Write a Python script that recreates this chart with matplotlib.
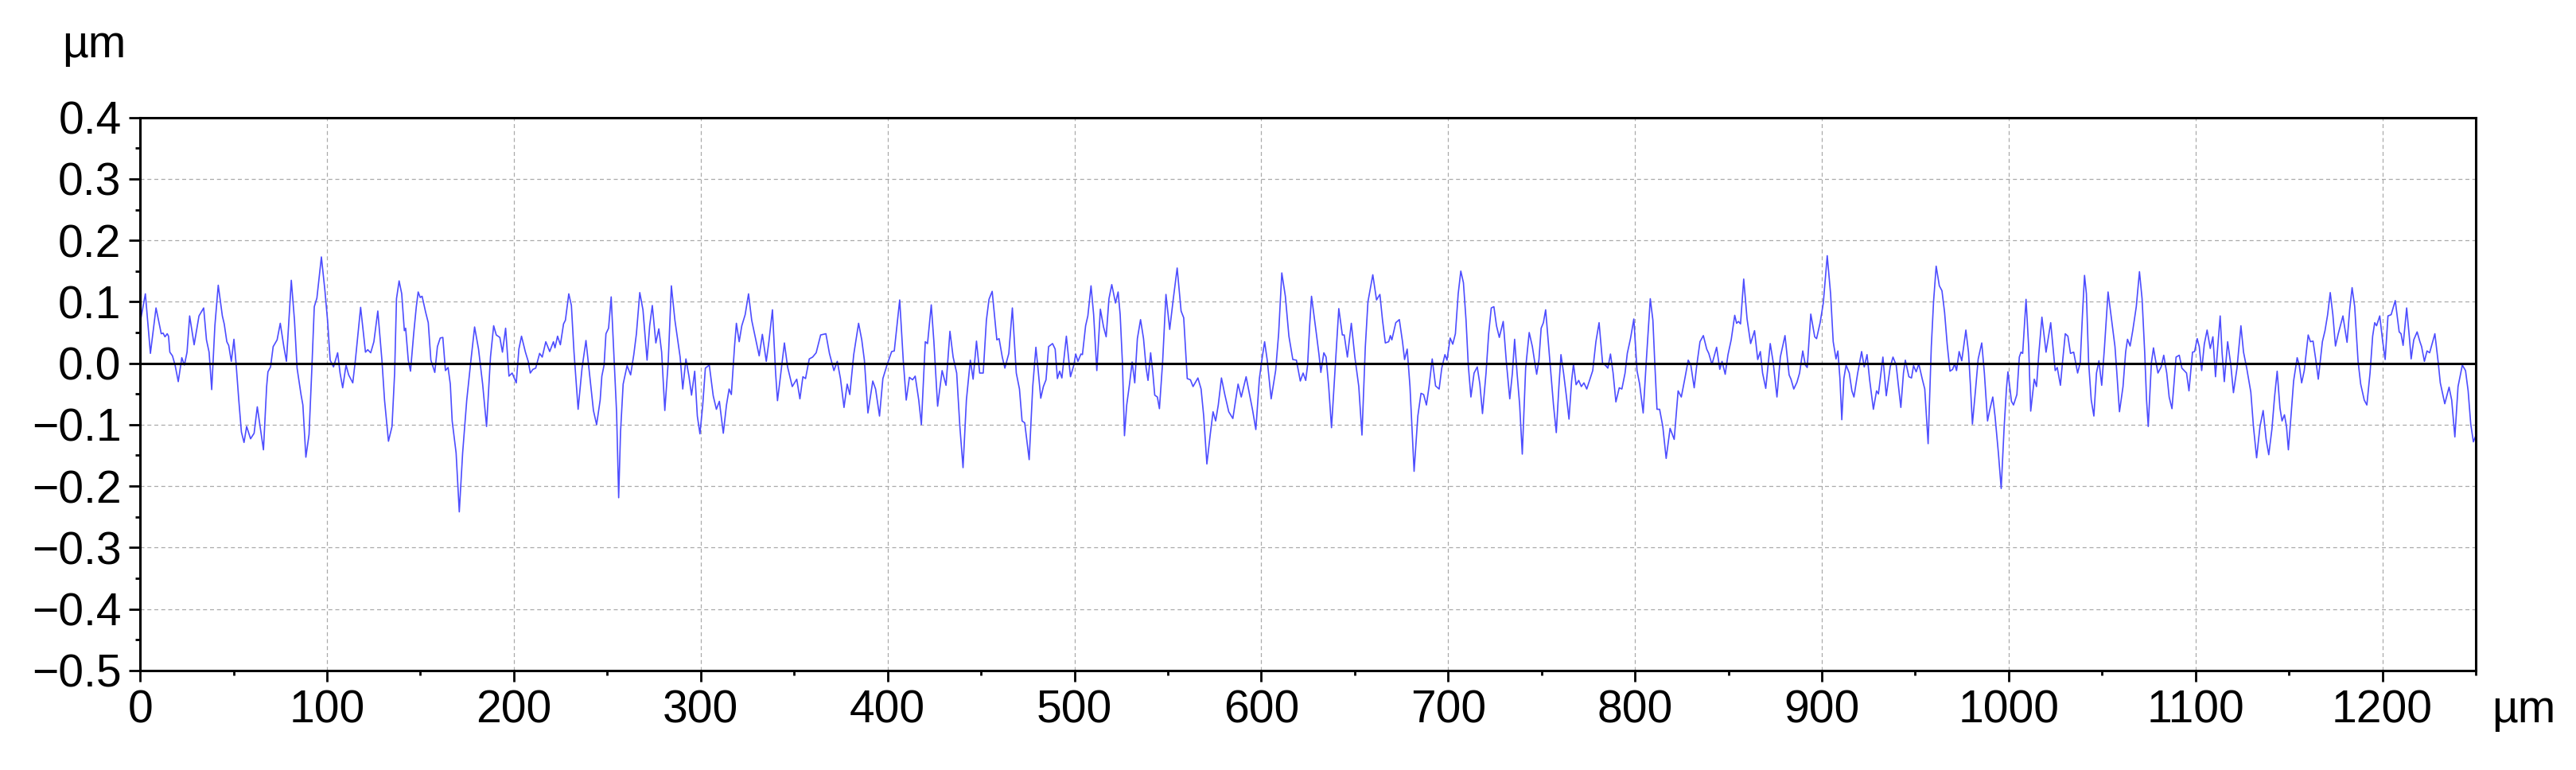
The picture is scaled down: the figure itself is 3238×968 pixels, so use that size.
import numpy as np
import matplotlib
matplotlib.use('Agg')
import matplotlib.pyplot as plt
from matplotlib.ticker import MultipleLocator, FuncFormatter

# profile: position (um) and height (nm), in 6 stretches
x_a = [0.0, 2.8, 5.5, 8.5, 11.3, 12.3, 13.3, 14.5, 15.2, 15.9, 17.3, 18.7, 20.4, 22.3, 23.7, 25.1, 26.5, 28.9, 31.5, 34.0,
       35.5, 36.9, 38.3, 40.0, 41.8, 44.0, 45.0, 46.4, 47.4, 48.8, 50.2, 51.3, 52.8, 54.2, 55.6, 57.0, 59.1, 61.0, 62.7, 64.4,
       66.0, 67.7, 68.4, 69.8, 71.2, 73.3, 75.0, 76.9, 78.3, 80.9, 82.6, 84.0, 86.1, 87.1, 88.7, 90.4, 91.8, 93.2, 94.6, 97.0,
       98.9, 100.3, 101.7, 103.5, 105.7, 107.0, 108.4, 110.2, 111.6, 113.8, 115.2, 118.0, 120.6, 121.8, 123.4, 125.1, 127.2,
       129.4, 130.8, 132.9, 134.8, 136.2, 137.2, 138.6, 140.0, 141.4, 142.1, 143.5, 144.7, 146.4, 147.8, 148.8, 149.9, 150.9,
       152.8, 154.2, 155.6, 157.7, 159.1, 160.6, 162.0, 163.4, 164.8, 166.0, 167.0, 169.1, 170.8, 172.6, 174.8, 176.9, 179.0,
       181.1, 183.3, 185.4, 187.5, 189.2, 190.6, 192.5, 193.9, 195.6, 197.4, 199.1, 201.3, 202.7, 204.1, 206.2, 207.7, 208.8,
       210.2]
z_a = [66, 113, 16, 90, 48, 49, 43, 48, 44, 18, 12, -3, -30, 9, -3, 18, 77, 30, 77, 90, 38, 18, -43, 61, 127, 77, 64, 35,
       29, 3, 39, 1, -60, -112, -129, -103, -123, -114, -71, -107, -141, -38, -14, -6, 27, 38, 65, 27, 3, 135, 70, -8, -51,
       -68, -153, -116, -16, 92, 106, 173, 118, 70, 5, -6, 17, -16, -40, -3, -19, -32, 5, 91, 18, 22, 17, 35, 85, 5, -60,
       -127, -103, -16, 105, 134, 113, 53, 57, 5, -13, 48, 92, 116, 107, 109, 83, 66, 5, -15, 27, 41, 42, -12, -7, -34, -94,
       -146, -242, -146, -60, 1, 59, 23, -34, -103, 10, 61, 46, 42, 18, 57, -21, -16, -32, 23, 44, 18, 3, -16, -10]

x_b = [211.7, 213.8, 215.2, 217.1, 219.2, 221.2, 222.0, 223.4, 224.9, 226.6, 227.6, 229.4, 230.8, 232.2, 234.4, 236.5,
       238.6, 240.8, 242.6, 244.3, 246.2, 247.1, 248.3, 249.3, 250.7, 252.1, 253.5, 255.0, 256.1, 257.1, 258.5, 260.6,
       262.5, 264.2, 265.6, 267.4, 269.1, 271.3, 272.7, 274.1, 276.0, 277.6, 279.1, 280.8, 282.6, 284.3, 286.2, 288.0,
       289.0, 290.4, 292.1, 293.7, 295.1, 296.8, 298.2, 299.6, 301.1, 302.5, 304.6, 306.7, 308.4, 310.0, 312.1, 313.8,
       315.2, 316.4, 318.1, 319.1, 320.6, 322.0, 323.8, 325.6, 327.3, 329.1, 331.3, 333.0, 335.1, 336.5, 338.4, 340.1,
       341.1, 342.9, 344.8, 346.5, 349.0, 351.4, 353.1, 354.7, 356.1, 358.1, 359.9, 361.8, 364.2, 367.0, 368.9, 371.3,
       373.1, 374.8, 376.7, 378.4, 379.8, 381.9, 384.5, 386.2, 387.6, 389.5, 392.1, 393.6, 395.7, 397.5, 399.7, 402.2,
       403.6, 406.5, 408.4, 410.0, 411.7, 413.4, 414.8, 416.7]
z_b = [-8, 16, 10, 35, 19, 35, 25, 44, 30, 64, 70, 113, 94, 18, -75, -8, 37, -25, -77, -100, -60, -21, -3, 48, 57, 108,
       18, -81, -219, -112, -34, -4, -19, 14, 48, 115, 87, 5, 61, 94, 33, 56, 18, -77, 1, 126, 70, 31, 10, -42, 7, -21,
       -52, -13, -86, -115, -68, -8, -3, -53, -75, -62, -114, -68, -42, -51, 27, 65, 35, 61, 79, 113, 70, 44, 12, 47, 3,
       35, 87, -16, -61, -16, 33, -6, -38, -26, -58, -22, -25, 7, 10, 17, 46, 48, 16, -12, 3, -25, -72, -34, -51, 14, 65,
       38, 5, -81, -29, -42, -86, -25, -3, 19, 20, 103, 5, -60, -23, -27, -21, -60]

x_c = [418.1, 420.2, 421.4, 423.4, 424.8, 426.8, 429.2, 431.3, 433.4, 435.1, 437.0, 438.7, 440.4, 442.2, 444.3, 445.8,
       447.6, 449.3, 451.2, 452.9, 454.3, 456.0, 458.5, 459.7, 461.4, 462.8, 464.9, 466.8, 468.9, 470.6, 472.0, 473.4,
       475.8, 477.7, 479.4, 480.5, 482.0, 483.4, 484.8, 486.2, 488.3, 489.7, 490.9, 492.1, 493.3, 495.7, 497.9, 499.7,
       500.7, 501.9, 503.5, 504.3, 506.0, 507.2, 508.9, 510.3, 512.0, 513.9, 515.6, 517.0, 518.5, 520.0, 522.0, 523.4,
       524.5, 525.7, 526.8, 528.0, 529.5, 530.9, 532.3, 533.7, 535.4, 537.0, 538.4, 539.4, 540.8, 542.0, 543.0, 544.4,
       545.5, 547.2, 549.0, 551.0, 552.9, 555.0, 557.1, 558.5, 560.4, 562.1, 563.5, 566.1, 567.8, 569.2, 570.9, 572.7,
       574.2, 575.6, 577.0, 578.7, 580.5, 582.6, 584.8, 587.6, 589.3, 591.9, 594.0, 595.4, 597.1, 599.0, 600.4, 601.8,
       603.2, 605.3, 607.7, 609.3, 611.0, 612.9, 614.8, 616.9, 618.8, 620.9, 622.4, 623.8, 624.8, 625.9]
z_c = [-100, 35, 32, 95, 35, -70, -12, -36, 52, 10, -16, -103, -170, -60, 5, -26, 36, -16, -16, 70, 104, 117, 38, 40,
       10, -8, 16, 90, -16, -42, -94, -97, -157, -38, 26, -8, -57, -38, -27, 27, 32, 23, -25, -13, -24, 44, -22, -3, 15,
       3, 15, 14, 61, 77, 126, 79, -12, 88, 59, 43, 105, 128, 98, 116, 79, 1, -118, -68, -34, 2, -32, 40, 71, 40, -8,
       -28, 17, -16, -52, -55, -74, 1, 112, 55, 104, 155, 85, 74, -25, -27, -38, -24, -42, -86, -164, -116, -79, -94,
       -68, -24, -51, -79, -90, -34, -55, -22, -55, -77, -108, -25, 7, 35, 5, -58, -12, 48, 147, 109, 44, 6, 5, -29,
       -16, -28, -3, 61]

x_d = [626.9, 629.5, 630.9, 631.9, 633.5, 634.7, 636.1, 637.6, 639.4, 641.5, 643.4, 644.4, 646.1, 648.2, 650.1, 652.2,
       653.9, 655.7, 657.1, 659.7, 661.7, 663.5, 664.9, 666.4, 668.2, 669.1, 669.9, 672.0, 673.9, 675.6, 676.7, 678.1,
       679.6, 681.8, 683.8, 685.5, 686.9, 688.4, 689.8, 691.5, 693.3, 695.2, 696.6, 698.3, 699.4, 701.1, 702.5, 703.9,
       705.4, 706.8, 708.2, 709.6, 710.8, 712.2, 713.9, 715.6, 717.0, 718.4, 720.3, 721.7, 723.1, 724.5, 725.9, 727.4,
       729.5, 731.2, 733.0, 734.4, 735.6, 736.9, 738.3, 739.7, 741.5, 743.4, 745.1, 746.2, 747.4, 748.6, 749.8, 751.0,
       752.2, 753.6, 755.0, 756.4, 757.9, 759.3, 760.4, 761.8, 763.2, 764.7, 766.1, 767.1, 768.5, 769.9, 771.3, 772.7,
       774.2, 775.9, 777.4, 779.1, 780.8, 782.7, 784.1, 785.5, 786.9, 788.3, 789.8, 791.6, 793.0, 794.7, 795.9, 797.6,
       799.4, 801.1, 802.5, 804.4, 806.1, 808.2, 809.6, 810.6, 811.8, 813.2, 814.9, 816.7, 818.8, 821.0, 823.1, 824.8,
       826.7, 828.5, 829.9]
z_d = [109, 48, 14, -15, 17, 10, -38, -105, -16, 89, 46, 46, 10, 65, 10, -38, -117, 27, 100, 144, 103, 112, 70, 33, 35,
       45, 38, 66, 71, 35, 6, 23, -38, -176, -86, -49, -51, -68, -38, 7, -37, -42, -8, 14, 5, 41, 31, 48, 113, 150, 131,
       70, -3, -55, -16, -6, -34, -82, -16, 48, 90, 92, 61, 42, 68, 1, -58, -16, 39, -16, -68, -148, -8, 50, 27, 5, -18,
       5, 57, 66, 87, 35, -16, -68, -113, -38, 14, -16, -51, -91, -29, -1, -35, -28, -38, -32, -42, -26, -12, 35, 66, -1,
       -3, -8, 15, -16, -63, -40, -42, -16, 16, 40, 72, -12, -34, -81, 5, 105, 70, 1, -75, -75, -103, -155, -106, -124,
       -45, -55, -25, 5, -3]

x_e = [831.7, 833.1, 834.8, 836.6, 838.4, 839.5, 841.2, 843.7, 845.4, 846.6, 848.3, 849.8, 851.5, 853.4, 854.4, 855.4,
       856.5, 858.2, 860.0, 861.9, 864.0, 865.7, 867.1, 868.3, 870.0, 872.4, 874.0, 876.0, 877.8, 880.3, 882.5, 883.5,
       885.0, 886.7, 888.1, 889.8, 891.2, 892.2, 894.1, 896.2, 897.2, 899.1, 900.8, 902.9, 904.7, 906.1, 907.6, 908.6,
       909.7, 910.7, 911.8, 913.0, 914.7, 916.1, 917.2, 919.2, 921.3, 922.7, 924.2, 925.6, 927.6, 929.3, 930.3, 932.7,
       934.5, 936.6, 938.1, 939.8, 940.9, 942.3, 943.7, 944.7, 946.6, 948.0, 949.1, 950.5, 951.9, 953.7, 955.1, 956.9,
       958.6, 959.8, 961.2, 962.9, 964.3, 965.7, 967.1, 968.6, 970.0, 971.1, 972.1, 973.5, 974.9, 977.1, 978.5, 979.5,
       980.6, 982.3, 983.7, 985.6, 987.0, 988.7, 989.8, 991.5, 992.7, 994.5, 996.0, 997.6, 998.8, 999.6, 1001.5, 1002.6,
       1004.4, 1005.7, 1006.6, 1007.5, 1009.3, 1010.7, 1011.8, 1013.7, 1014.9, 1016.1, 1017.8, 1020.0, 1022.5, 1024.9,
       1026.0, 1027.7, 1028.8, 1030.3, 1031.7, 1033.1, 1034.8, 1036.9, 1038.3, 1039.5, 1040.6]
z_e = [-40, -3, 35, 45, 23, 16, -2, 26, -10, 3, -18, 14, 38, 78, 65, 68, 64, 137, 72, 32, 53, 6, 19, -16, -41, 32, 1,
       -55, 10, 45, -19, -26, -42, -31, -16, 20, -3, -7, 80, 43, 40, 66, 98, 175, 113, 35, 7, 20, -25, -92, -25, -3, -16,
       -45, -55, -16, 19, -6, 14, -27, -75, -45, -50, 10, -53, -6, 10, -3, -34, -72, -16, 5, -22, -24, -4, -14, -1, -25,
       -42, -131, 27, 100, 158, 126, 118, 83, 31, -13, -10, -1, -12, 19, 4, 54, 18, -34, -99, -42, 7, 33, -16, -94, -77,
       -55, -86, -146, -204, -103, -42, -14, -62, -68, -51, 10, 18, 16, 104, 27, -78, -26, -38, 14, 75, 18, 66, -12, -7,
       -36, 1, 48, 44, 16, 18, -16, 1, 79, 143]

x_f = [1041.6, 1042.8, 1044.2, 1045.6, 1047.0, 1048.3, 1049.8, 1051.3, 1053.2, 1055.1, 1056.9, 1057.9, 1059.3, 1061.2,
       1062.6, 1063.6, 1065.0, 1066.4, 1068.3, 1070.0, 1071.4, 1072.8, 1073.8, 1074.7, 1076.4, 1077.5, 1078.5, 1079.9,
       1081.6, 1083.0, 1084.6, 1085.9, 1087.4, 1089.6, 1091.3, 1092.7, 1095.2, 1096.5, 1098.4, 1099.5, 1100.9, 1102.0,
       1103.3, 1104.7, 1106.2, 1107.9, 1109.3, 1110.7, 1111.8, 1113.2, 1114.2, 1115.4, 1117.2, 1118.9, 1120.3, 1122.2,
       1124.3, 1125.7, 1127.4, 1129.6, 1131.0, 1132.7, 1134.5, 1136.2, 1137.8, 1139.2, 1140.9, 1142.3, 1143.7, 1145.2,
       1146.3, 1147.6, 1148.7, 1149.7, 1151.1, 1152.5, 1154.4, 1155.5, 1156.8, 1158.2, 1160.3, 1161.5, 1162.9, 1164.3,
       1165.7, 1167.9, 1169.3, 1170.7, 1172.1, 1173.5, 1174.9, 1176.4, 1178.9, 1179.9, 1181.1, 1182.5, 1183.8, 1185.2,
       1187.0, 1188.4, 1190.3, 1191.7, 1193.4, 1194.8, 1195.9, 1196.9, 1198.6, 1200.2, 1201.5, 1203.0, 1204.7, 1206.9,
       1209.0, 1210.0, 1211.1, 1213.0, 1214.4, 1215.4, 1216.8, 1218.6, 1220.1, 1221.0, 1222.5, 1223.9, 1225.3, 1228.1,
       1229.9, 1231.0, 1233.4, 1235.7, 1237.1, 1238.8, 1240.5, 1242.8, 1244.5, 1245.9, 1247.3, 1248.7, 1250.0]
z_f = [113, 1, -60, -86, -16, 4, -36, 27, 116, 70, 27, -16, -79, -38, 18, 39, 28, 53, 92, 149, 105, 18, -60, -103, 1,
       25, 7, -16, -6, 13, -16, -55, -74, 10, 13, -8, -16, -45, 18, 19, 40, 27, -12, 31, 54, 24, 43, -22, 23, 77, 18,
       -30, 35, -3, -48, -8, 61, 18, -8, -47, -103, -154, -103, -77, -124, -149, -107, -55, -13, -73, -94, -84, -103,
       -141, -86, -29, 9, -3, -32, -12, 46, 35, 36, 7, -26, 35, 53, 79, 115, 79, 28, 48, 77, 57, 34, 87, 123, 92, 3,
       -34, -60, -68, -16, 44, 66, 61, 77, 35, 6, 77, 79, 102, 51, 48, 29, 90, 44, 7, 38, 51, 35, 27, 3, 20, 17, 48, 1,
       -32, -66, -39, -60, -120, -38, -3, -12, -45, -99, -128, -118]

x_ticks = [0, 100, 200, 300, 400, 500, 600, 700, 800, 900, 1000, 1100, 1200]
y_ticks = [-0.5, -0.4, -0.3, -0.2, -0.1, 0.0, 0.1, 0.2, 0.3, 0.4]


def yfmt(v, pos):
    s = "%.1f" % round(v, 2)
    if s == "-0.0":
        s = "0.0"
    return s.replace("-", "\u2212")


def main():
    plt.rcParams['font.family'] = ['Liberation Sans', 'DejaVu Sans']
    xs = np.concatenate([x_a, x_b, x_c, x_d, x_e, x_f])
    zs = np.concatenate([z_a, z_b, z_c, z_d, z_e, z_f]) / 1000.0

    fig = plt.figure(figsize=(32.38, 9.68), dpi=100)
    ax = fig.add_axes([0.0544, 0.1294, 0.9067, 0.7180])
    ax.plot(xs, zs, color='#4d4dff', lw=1.2, zorder=2)
    ax.axhline(0, color='black', lw=2.2, zorder=3)

    ax.set_xlim(0, 1250)
    ax.set_ylim(-0.5, 0.4)
    ax.set_xticks(x_ticks)
    ax.set_yticks(y_ticks)
    ax.xaxis.set_minor_locator(MultipleLocator(50))
    ax.yaxis.set_minor_locator(MultipleLocator(0.05))
    ax.yaxis.set_major_formatter(FuncFormatter(yfmt))
    ax.grid(True, which='major', color='#aaaaaa', ls=(0, (4, 3)), lw=0.9)
    ax.tick_params(which='major', direction='out', length=10, width=2.0, labelsize=41, pad=7)
    ax.tick_params(which='minor', direction='out', length=4.5, width=2.0)
    for sp in ax.spines.values():
        sp.set_linewidth(2.2)

    fig.text(0.0241, 0.9256, "\u00b5m", fontsize=41, ha='left', va='baseline')

    # x unit sits on the same line as the x tick labels
    fig.canvas.draw()
    bb = ax.get_xticklabels()[0].get_window_extent()
    y0 = bb.y0 / fig.bbox.height
    fig.text(0.9673, y0, "\u00b5m", fontsize=41, ha='left', va='bottom')

    fig.savefig("out.png", dpi=100)


if __name__ == '__main__':
    main()
